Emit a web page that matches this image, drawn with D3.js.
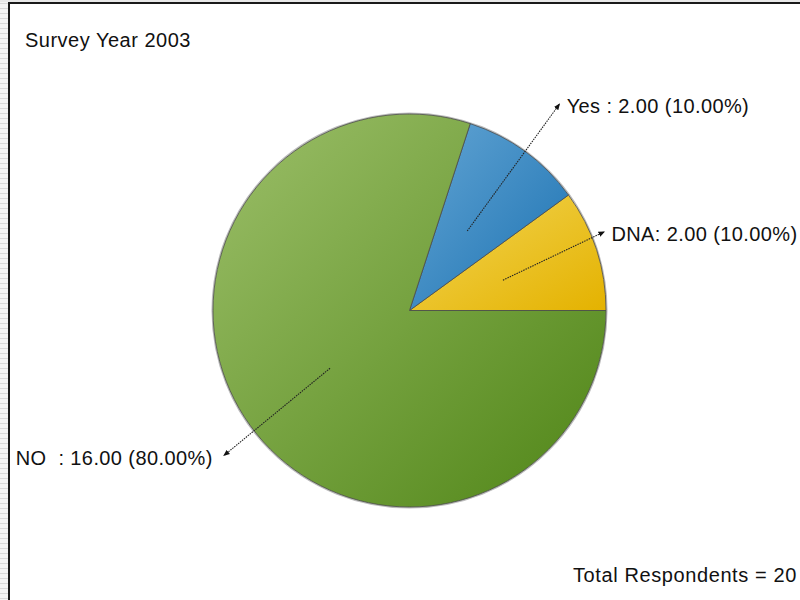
<!DOCTYPE html>
<html>
<head>
<meta charset="utf-8">
<script src="https://cdn.jsdelivr.net/npm/d3@7/dist/d3.min.js"></script>
<style>
  html, body { margin: 0; padding: 0; background: #fff; }
  svg { display: block; }
  text { font-family: "Liberation Sans", Arial, sans-serif; fill: #111; }
</style>
</head>
<body>
<svg id="chart" width="800" height="600"></svg>
<script>
// Survey answers, in drawing order (counter-clockwise from 3 o'clock)
const categories = ["DNA", "Yes", "NO"];
const counts = [2, 2, 16];
const labelNames = ["DNA:", "Yes :", "NO  :"];
const title = "Survey Year 2003";
const totalLabel = "Total Respondents = ";

// Styling / layout
const colorStops = {
  DNA: ["#f2d555", "#e4b200"],
  Yes: ["#63a5d4", "#1c72b2"],
  NO:  ["#9cbf69", "#4f8516"]
};
const leaderLayout = {            // tip radius (× r) and angular nudge (rad)
  DNA: { k: 1.07, nudge: -0.07 },
  Yes: { k: 1.30, nudge: 0 },
  NO:  { k: 1.20, nudge: -0.035 }
};

const svg = d3.select("#chart");
const cx = 409.5, cy = 310.5, r = 196.5;

// frame: striped strip on the left, dark border
const defs = svg.append("defs");
const pat = defs.append("pattern").attr("id", "stripes")
  .attr("patternUnits", "userSpaceOnUse").attr("width", 8).attr("height", 5);
pat.append("rect").attr("width", 8).attr("height", 5).attr("fill", "#f4f4f4");
pat.append("rect").attr("y", 3).attr("width", 8).attr("height", 1).attr("fill", "#d8d8d8");
svg.append("rect").attr("x", 0).attr("y", 0).attr("width", 8).attr("height", 600).attr("fill", "url(#stripes)");
svg.append("rect").attr("x", 0).attr("y", 0).attr("width", 800).attr("height", 2).attr("fill", "#e8e8e8");
svg.append("rect").attr("x", 9).attr("y", 3).attr("width", 800).attr("height", 610)
  .attr("fill", "#fff").attr("stroke", "#1a1a1a").attr("stroke-width", 2);

// gradients per slice
categories.forEach(c => {
  const g = defs.append("linearGradient").attr("id", "grad-" + c)
    .attr("x1", 0).attr("y1", 0).attr("x2", 1).attr("y2", 1);
  g.append("stop").attr("offset", "0%").attr("stop-color", colorStops[c][0]);
  g.append("stop").attr("offset", "100%").attr("stop-color", colorStops[c][1]);
});

// arrow marker
defs.append("marker").attr("id", "arrow")
  .attr("viewBox", "0 0 10 10").attr("refX", 9).attr("refY", 5)
  .attr("markerWidth", 6).attr("markerHeight", 6).attr("orient", "auto")
  .append("path").attr("d", "M0,1 L10,5 L0,9 Z").attr("fill", "#111");

const data = categories.map((c, i) => ({ cat: c, value: counts[i], name: labelNames[i] }));
const total = d3.sum(counts);

const pie = d3.pie().value(d => d.value).sort(null)
  .startAngle(Math.PI / 2).endAngle(Math.PI / 2 - 2 * Math.PI);
const arcs = pie(data);
const arc = d3.arc().innerRadius(0).outerRadius(r);

const g = svg.append("g").attr("transform", `translate(${cx},${cy})`);

// soft edge around the pie
g.append("circle").attr("r", r + 0.8).attr("fill", "none")
  .attr("stroke", "#bbb").attr("stroke-width", 1.5);

g.selectAll("path.slice").data(arcs).enter().append("path")
  .attr("class", "slice")
  .attr("d", arc)
  .attr("fill", d => `url(#grad-${d.data.cat})`)
  .attr("stroke", "#4a4a4a").attr("stroke-width", 0.8)
  .attr("stroke-linejoin", "round");

const fmt = d3.format(".2f");
const polar = (a, rad) => [Math.sin(a) * rad, -Math.cos(a) * rad];

arcs.forEach(d => {
  const mid = (d.startAngle + d.endAngle) / 2;
  const L = leaderLayout[d.data.cat];
  const p0 = polar(mid, r * 0.5);
  const p1 = polar(mid + L.nudge, r * L.k);
  g.append("line")
    .attr("x1", p0[0]).attr("y1", p0[1]).attr("x2", p1[0]).attr("y2", p1[1])
    .attr("stroke", "#222").attr("stroke-width", 1.1)
    .attr("stroke-dasharray", "1.5,1")
    .attr("marker-end", "url(#arrow)");
  const right = p1[0] >= 0;
  g.append("text")
    .attr("x", p1[0] + (right ? 7 : -11))
    .attr("y", p1[1] + 9)
    .attr("text-anchor", right ? "start" : "end")
    .attr("font-size", 20)
    .attr("letter-spacing", 0.4)
    .attr("xml:space", "preserve")
    .text(`${d.data.name} ${fmt(d.data.value)} (${fmt(d.data.value / total * 100)}%)`);
});

svg.append("text").attr("x", 25).attr("y", 47)
  .attr("font-size", 20).attr("letter-spacing", 0.5).text(title);

svg.append("text").attr("x", 573).attr("y", 582)
  .attr("font-size", 20).attr("letter-spacing", 0.6).text(totalLabel + total);
</script>
</body>
</html>
